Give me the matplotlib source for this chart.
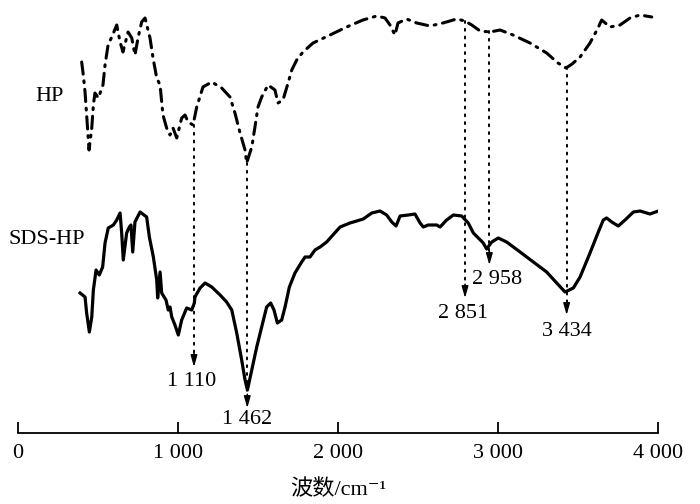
"""FTIR spectra of HP and SDS-HP with marked absorption bands."""

import matplotlib
matplotlib.use("Agg")
import matplotlib.pyplot as plt


# HP spectrum (wavenumber, cm-1 / transmittance, a.u.)
hp_wn = [398, 408, 419, 429, 444, 461, 471, 481, 502, 531, 544, 563, 586, 617, 638,
         656, 688, 711, 731, 750, 773, 794, 825, 844, 867, 888, 898, 906, 929, 950,
         969, 992, 1023, 1044, 1063, 1094, 1117, 1156, 1211, 1273, 1325, 1356, 1388,
         1419, 1429, 1461, 1481, 1500, 1523, 1563, 1606, 1625, 1656, 1688, 1711, 1742,
         1781, 1844, 1950, 2054, 2156, 2242, 2294, 2325, 2356, 2375, 2429, 2492, 2575,
         2656, 2742, 2794, 2836, 2888, 2950, 3013, 3094, 3200, 3304, 3375, 3425, 3463,
         3513, 3575, 3625, 3648, 3700, 3763, 3825, 3888, 3961]
hp_t = [371, 358, 341, 318, 283, 305, 328, 340, 335, 348, 368, 388, 396, 408, 391,
        381, 401, 395, 378, 395, 411, 415, 395, 375, 355, 348, 331, 318, 305, 298,
        305, 295, 315, 318, 311, 308, 326, 346, 351, 345, 336, 320, 300,
        283, 270, 286, 306, 326, 336, 348, 343, 330, 333, 350, 363, 373,
        381, 390, 398, 406, 413, 417, 415, 408, 398, 410, 414, 410, 407,
        410, 414, 412, 408, 402, 401, 403, 398, 390, 380, 370, 365, 369,
        376, 390, 405, 413, 406, 408, 415, 418, 416]

# SDS-HP spectrum
sds_wn = [388, 419, 429, 446, 461, 471, 488, 508, 529, 544, 564, 596, 617, 638, 648,
          658, 679, 696, 706, 717, 731, 763, 804, 821, 846, 867, 873, 888, 898, 925,
          939, 950, 961, 981, 1002, 1023, 1054, 1086, 1102, 1106, 1138, 1169, 1211,
          1263, 1304, 1336, 1367, 1398, 1419, 1434, 1461, 1492, 1523, 1554, 1579,
          1600, 1621, 1648, 1669, 1696, 1731, 1773, 1794, 1825, 1856, 1888, 1929,
          2013, 2075, 2158, 2211, 2263, 2304, 2336, 2363, 2388, 2439, 2481, 2513,
          2533, 2564, 2617, 2638, 2679, 2721, 2773, 2814, 2846, 2877, 2908, 2929,
          2961, 3002, 3054, 3138, 3221, 3304, 3367, 3419, 3471, 3513, 3575, 3627,
          3658, 3679, 3711, 3752, 3794, 3846, 3888, 3950, 4002]
sds_t = [140, 136, 120, 101, 116, 143, 163, 158, 166, 190, 205, 208, 213, 220, 200,
         173, 200, 206, 208, 181, 211, 221, 216, 196, 176, 153, 135, 161, 140, 133,
         123, 126, 116, 108, 98, 113, 125, 123, 130, 136, 145, 150, 146,
         138, 131, 123, 100, 73, 53, 43, 63, 86, 106, 126, 130,
         123, 110, 113, 126, 146, 160, 171, 176, 176, 183, 186, 191,
         206, 210, 214, 220, 222, 218, 211, 207, 217, 218, 219, 210,
         206, 208, 208, 206, 213, 218, 217, 210, 200, 195, 190, 184,
         191, 195, 191, 181, 171, 161, 150, 141, 145, 156, 180, 201,
         213, 215, 211, 207, 213, 221, 222, 219, 222]

# marked bands: line position, top of dotted line, arrow tip, label text and anchor
peak_pos = [1100, 1433, 2794, 2946, 3429]
peak_top = [308, 270, 412, 402, 366]
peak_tip = [66, 25, 135, 168, 118]
peak_labels = ["1 110", "1 462", "2 851", "2 958", "3 434"]
label_x = [1088, 1431, 2781, 2994, 3431]
label_y = [51, 13, 120, 153, 102]

x_ticks = [0, 1000, 2000, 3000, 4000]
x_tick_labels = ["0", "1 000", "2 000", "3 000", "4 000"]

SERIF = ["Liberation Serif", "Noto Sans CJK SC", "DejaVu Serif"]


def main():
    plt.rcParams["font.family"] = SERIF

    fig = plt.figure(figsize=(7, 5.04), dpi=100)
    ax = fig.add_axes([18 / 700, 71 / 504, 640 / 700, 428 / 504])

    ax.plot(hp_wn, hp_t, color="black", lw=2.2,
            linestyle=(0, (4, 2.2, 0.6, 2.2)), dash_capstyle="round")
    ax.plot(sds_wn, sds_t, color="black", lw=2.3, solid_joinstyle="round")

    # dotted guide lines with arrow heads
    for x, top, tip in zip(peak_pos, peak_top, peak_tip):
        ax.plot([x, x], [top, tip + 8], color="black", lw=1.4,
                linestyle=(0, (1, 3)), dash_capstyle="round")
        ax.annotate("", xy=(x, tip), xytext=(0, 10), textcoords="offset points",
                    arrowprops=dict(arrowstyle="-|>,head_length=0.7,head_width=0.2",
                                    color="black", lw=1, shrinkA=0, shrinkB=0))

    for x, y, s in zip(label_x, label_y, peak_labels):
        ax.text(x, y, s, ha="center", va="center", fontsize=16)

    ax.text(200, 337, "HP", ha="center", va="center", fontsize=16)
    ax.text(181, 193, "SDS-HP", ha="center", va="center", fontsize=16)

    ax.set_xlim(0, 4000)
    ax.set_ylim(0, 428)
    for side in ["top", "left", "right"]:
        ax.spines[side].set_visible(False)
    ax.spines["bottom"].set_linewidth(1.3)
    ax.set_yticks([])
    ax.set_xticks(x_ticks)
    ax.set_xticklabels(x_tick_labels, fontsize=16)
    ax.tick_params(axis="x", direction="in", length=8, width=1.3, pad=8)
    ax.set_xlabel("波数/cm\u207b\u00b9", fontsize=16, labelpad=12)

    fig.savefig("out.png", dpi=100)


if __name__ == "__main__":
    main()
